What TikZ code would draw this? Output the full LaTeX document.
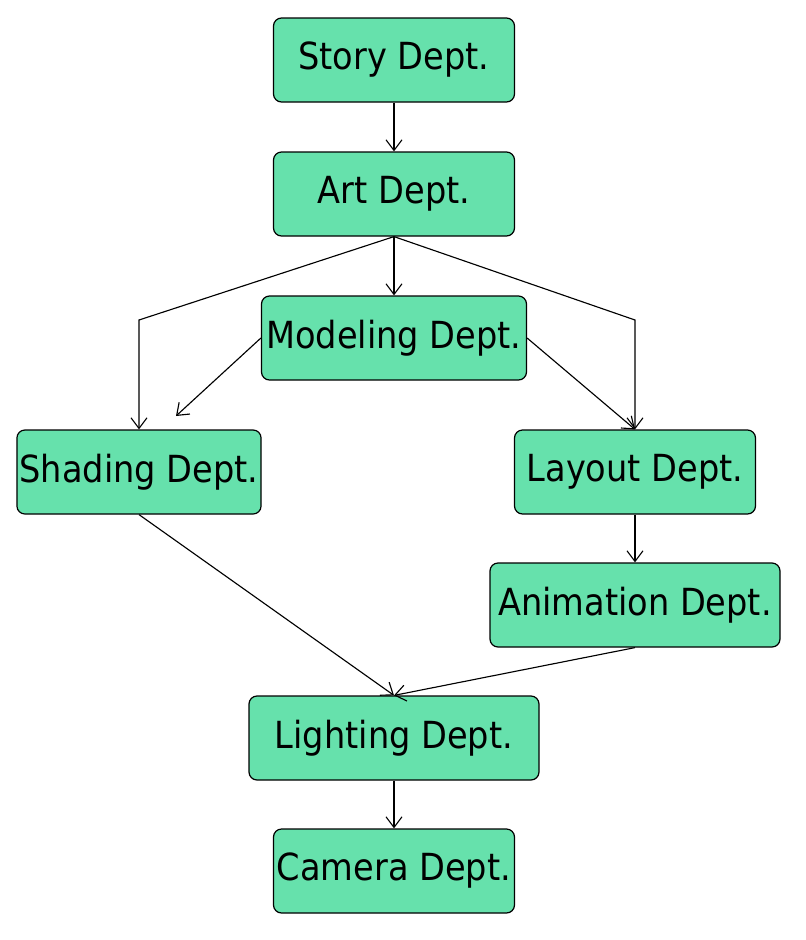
\documentclass[tikz,border=0pt]{standalone}
\usepackage{fontspec}
\setmainfont{DejaVu Sans Condensed}
\usepackage{tikz}
\usetikzlibrary{positioning,arrows.meta}
\definecolor{deptgreen}{HTML}{66E1AC}

\begin{document}
\begin{tikzpicture}[
    x=0.75pt, y=-0.75pt,
    dept/.style={draw, line width=0.9pt, rounded corners=6pt, fill=deptgreen, minimum width=#1, minimum height=63pt, inner sep=2pt, font=\fontsize{28}{31}\selectfont},
    flow/.style={-{Straight Barb[length=8pt,width=12pt]}, line width=0.85pt},
]
\useasboundingbox (0,0) rectangle (806,940);

\node[dept=180.75pt] (story) at (394,60) {Story Dept.};
\node[dept=180.75pt] (art) at (394,194) {Art Dept.};
\node[dept=198.75pt] (modeling) at (394,338) {Modeling Dept.};
\node[dept=181.5pt] (shading) at (139,472) {Shading Dept.};
\node[dept=180.75pt] (layout) at (635,472) {Layout Dept.};
\node[dept=217.5pt] (animation) at (635,605) {Animation Dept.};
\node[dept=217.5pt] (lighting) at (394,738) {Lighting Dept.};
\node[dept=180.75pt] (camera) at (394,871) {Camera Dept.};
\coordinate (shadein) at (176,416);

\draw[flow] (story) -- (art);
\draw[flow] (art.south) -- (modeling.north);
\draw[flow] (art.south) -- (shading.north |- 0,320) -- (shading.north);
\draw[flow] (art.south) -- (layout.north |- 0,320) -- (layout.north);
\draw[flow] (modeling.west) -- (shadein);
\draw[flow] (modeling.east) -- (layout.north);
\draw[flow] (layout) -- (animation);
\draw[flow] (shading.south) -- (lighting.north);
\draw[flow] (animation.south) -- (lighting.north);
\draw[flow] (lighting) -- (camera);

\end{tikzpicture}
\end{document}
